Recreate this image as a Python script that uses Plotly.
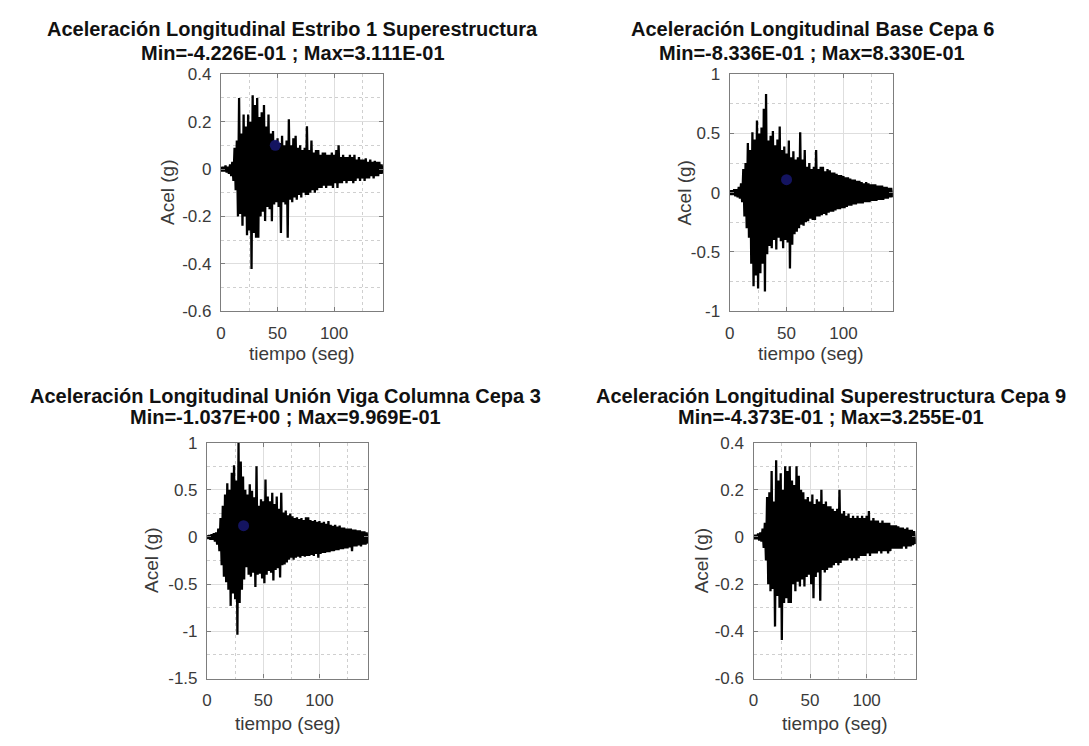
import numpy as np
import plotly.graph_objects as go

# ---------------- data ----------------
DT = 1.0  # s between samples

titles = [
    "Aceleración Longitudinal Estribo 1 Superestructura",
    "Aceleración Longitudinal Base Cepa 6",
    "Aceleración Longitudinal Unión Viga Columna Cepa 3",
    "Aceleración Longitudinal Superestructura Cepa 9",
]
subtitles = [
    "Min=-4.226E-01 ; Max=3.111E-01",
    "Min=-8.336E-01 ; Max=8.330E-01",
    "Min=-1.037E+00 ; Max=9.969E-01",
    "Min=-4.373E-01 ; Max=3.255E-01",
]

# positive peaks (t = 0, 2, 4, ...) and negative peaks (t = 1, 3, 5, ...)
pos1 = [0.01, 0.01, 0.015, 0.01, 0.02, 0.03, 0.09, 0.12, 0.30, 0.15, 0.23, 0.18,
        0.23, 0.20, 0.311, 0.27, 0.30, 0.22, 0.24, 0.27, 0.18, 0.23, 0.15, 0.16,
        0.12, 0.13, 0.11, 0.14, 0.10, 0.12, 0.21, 0.10, 0.13, 0.14, 0.09, 0.10,
        0.08, 0.09, 0.18, 0.08, 0.12, 0.07, 0.08, 0.08, 0.06, 0.07, 0.07, 0.06,
        0.06, 0.07, 0.06, 0.08, 0.10, 0.05, 0.06, 0.05, 0.05, 0.06, 0.05, 0.06,
        0.04, 0.05, 0.04, 0.04, 0.045, 0.03, 0.04, 0.03, 0.035, 0.03, 0.03, 0.02]
neg1 = [-0.01, -0.01, -0.015, -0.02, -0.03, -0.05, -0.09, -0.20, -0.19, -0.24, -0.20, -0.28,
        -0.26, -0.4226, -0.27, -0.29, -0.29, -0.20, -0.18, -0.22, -0.16, -0.17, -0.22, -0.15,
        -0.14, -0.16, -0.27, -0.14, -0.15, -0.29, -0.13, -0.14, -0.12, -0.13, -0.11, -0.12,
        -0.10, -0.11, -0.11, -0.10, -0.09, -0.10, -0.09, -0.08, -0.08, -0.07, -0.08, -0.07,
        -0.07, -0.08, -0.06, -0.08, -0.06, -0.06, -0.05, -0.06, -0.05, -0.05, -0.06, -0.05,
        -0.04, -0.05, -0.04, -0.05, -0.04, -0.04, -0.03, -0.04, -0.03, -0.03, -0.02, -0.02]

pos2 = [0.02, 0.02, 0.03, 0.03, 0.05, 0.08, 0.20, 0.25, 0.42, 0.36, 0.51, 0.45,
        0.61, 0.50, 0.55, 0.71, 0.833, 0.44, 0.48, 0.52, 0.40, 0.45, 0.56, 0.36,
        0.39, 0.33, 0.44, 0.30, 0.35, 0.28, 0.30, 0.51, 0.28, 0.36, 0.22, 0.25,
        0.20, 0.22, 0.36, 0.20, 0.22, 0.22, 0.18, 0.20, 0.19, 0.17, 0.17, 0.16,
        0.15, 0.15, 0.14, 0.13, 0.13, 0.12, 0.11, 0.11, 0.10, 0.10, 0.09, 0.08,
        0.09, 0.08, 0.07, 0.07, 0.07, 0.06, 0.06, 0.06, 0.05, 0.05, 0.04, 0.04]
neg2 = [-0.02, -0.02, -0.03, -0.04, -0.05, -0.08, -0.20, -0.30, -0.38, -0.60, -0.79, -0.70,
        -0.81, -0.68, -0.60, -0.8336, -0.52, -0.45, -0.47, -0.40, -0.48, -0.38, -0.41, -0.47,
        -0.40, -0.42, -0.64, -0.44, -0.35, -0.33, -0.30, -0.27, -0.28, -0.25, -0.24, -0.22,
        -0.23, -0.23, -0.20, -0.20, -0.19, -0.18, -0.19, -0.17, -0.16, -0.16, -0.15, -0.14,
        -0.14, -0.13, -0.13, -0.12, -0.11, -0.11, -0.10, -0.10, -0.09, -0.09, -0.09, -0.08,
        -0.08, -0.08, -0.07, -0.07, -0.07, -0.06, -0.06, -0.06, -0.05, -0.05, -0.04, -0.04]

pos3 = [0.02, 0.02, 0.03, 0.04, 0.05, 0.09, 0.20, 0.33, 0.45, 0.57, 0.50, 0.68,
        0.76, 0.60, 0.997, 0.80, 0.64, 0.50, 0.45, 0.56, 0.49, 0.42, 0.75, 0.33,
        0.40, 0.38, 0.61, 0.43, 0.38, 0.47, 0.35, 0.43, 0.30, 0.47, 0.26, 0.28,
        0.23, 0.25, 0.22, 0.20, 0.21, 0.19, 0.20, 0.18, 0.21, 0.21, 0.18, 0.17,
        0.18, 0.16, 0.17, 0.15, 0.16, 0.14, 0.17, 0.13, 0.12, 0.13, 0.11, 0.12,
        0.10, 0.10, 0.09, 0.09, 0.09, 0.08, 0.08, 0.07, 0.07, 0.06, 0.06, 0.05]
neg3 = [-0.02, -0.03, -0.03, -0.05, -0.08, -0.15, -0.30, -0.42, -0.48, -0.56, -0.73, -0.60,
        -0.66, -1.037, -0.70, -0.56, -0.45, -0.32, -0.40, -0.42, -0.38, -0.53, -0.40, -0.39,
        -0.44, -0.49, -0.40, -0.36, -0.38, -0.46, -0.35, -0.33, -0.43, -0.30, -0.29, -0.27,
        -0.24, -0.22, -0.24, -0.22, -0.21, -0.22, -0.20, -0.21, -0.20, -0.20, -0.19, -0.20,
        -0.18, -0.22, -0.18, -0.17, -0.17, -0.16, -0.16, -0.15, -0.15, -0.14, -0.14, -0.13,
        -0.13, -0.12, -0.12, -0.11, -0.15, -0.10, -0.10, -0.09, -0.10, -0.08, -0.08, -0.07]

pos4 = [0.01, 0.01, 0.015, 0.02, 0.036, 0.06, 0.17, 0.19, 0.28, 0.15, 0.3255, 0.24,
        0.27, 0.20, 0.30, 0.28, 0.30, 0.24, 0.22, 0.30, 0.26, 0.20, 0.19, 0.16,
        0.17, 0.15, 0.18, 0.14, 0.16, 0.15, 0.20, 0.14, 0.15, 0.13, 0.13, 0.12,
        0.11, 0.12, 0.20, 0.10, 0.11, 0.09, 0.10, 0.08, 0.09, 0.08, 0.09, 0.08,
        0.09, 0.08, 0.09, 0.11, 0.07, 0.08, 0.07, 0.07, 0.06, 0.07, 0.06, 0.06,
        0.06, 0.05, 0.05, 0.05, 0.045, 0.04, 0.04, 0.035, 0.04, 0.03, 0.03, 0.025]
neg4 = [-0.01, -0.01, -0.015, -0.02, -0.046, -0.10, -0.20, -0.23, -0.22, -0.38, -0.25, -0.30,
        -0.437, -0.28, -0.26, -0.28, -0.28, -0.20, -0.23, -0.19, -0.21, -0.18, -0.21, -0.17,
        -0.16, -0.20, -0.26, -0.17, -0.15, -0.27, -0.14, -0.15, -0.14, -0.13, -0.13, -0.12,
        -0.11, -0.12, -0.11, -0.10, -0.10, -0.10, -0.09, -0.10, -0.09, -0.10, -0.09, -0.08,
        -0.08, -0.08, -0.07, -0.08, -0.07, -0.07, -0.07, -0.06, -0.07, -0.06, -0.06, -0.07,
        -0.06, -0.05, -0.05, -0.05, -0.05, -0.05, -0.04, -0.05, -0.04, -0.04, -0.035, -0.03]

# blue marker point shown on three of the panels (t, accel)
marker_t = [48, 50, 32.5, None]
marker_a = [0.10, 0.11, 0.12, None]

x_ticks = [0, 50, 100]
x_ticklabels = ["0", "50", "100"]
y_ticks_list = [
    [-0.6, -0.4, -0.2, 0, 0.2, 0.4],
    [-1, -0.5, 0, 0.5, 1],
    [-1.5, -1, -0.5, 0, 0.5, 1],
    [-0.6, -0.4, -0.2, 0, 0.2, 0.4],
]
y_ticklabels_list = [
    ["-0.6", "-0.4", "-0.2", "0", "0.2", "0.4"],
    ["-1", "-0.5", "0", "0.5", "1"],
    ["-1.5", "-1", "-0.5", "0", "0.5", "1"],
    ["-0.6", "-0.4", "-0.2", "0", "0.2", "0.4"],
]
y_ranges = [[-0.6, 0.4], [-1, 1], [-1.5, 1], [-0.6, 0.4]]
y_minor = [0.1, 0.25, 0.25, 0.1]
x_range = [0, 143.5]
x_label = "tiempo (seg)"
y_label = "Acel (g)"

pos_list = [pos1, pos2, pos3, pos4]
neg_list = [neg1, neg2, neg3, neg4]

# ---------------- layout geometry (pixels) ----------------
W, H = 1089, 746
boxes = [  # left, right, top, bottom
    (217, 380, 67, 310),
    (728, 892, 67, 310),
    (203, 365, 445, 687),
    (752, 915, 445, 687),
]
title_cx = [289, 811, 282, 830]
title_y1 = [21, 21, 397, 397]
title_y2 = [45, 45, 419, 419]
xlab_y = [353, 353, 733, 733]
ylab_x = [163, 683, 147, 700]

FONT = "Liberation Sans, Arial, Helvetica, sans-serif"
TXT = "#2b2b2b"

fig = go.Figure()
layout = dict(
    width=W, height=H,
    margin=dict(l=0, r=0, t=0, b=0),
    paper_bgcolor="white", plot_bgcolor="white",
    showlegend=False,
    font=dict(family=FONT, color=TXT),
)
annotations = []

for i in range(4):
    sig = [v for pair in zip(pos_list[i], neg_list[i]) for v in pair]
    t = np.arange(len(sig)) * DT
    xa = "x" if i == 0 else f"x{i+1}"
    ya = "y" if i == 0 else f"y{i+1}"
    fig.add_trace(go.Scatter(x=t, y=sig, mode="lines",
                             line=dict(color="black", width=2.3),
                             xaxis=xa, yaxis=ya, hoverinfo="skip"))
    if marker_t[i] is not None:
        fig.add_trace(go.Scatter(x=[marker_t[i]], y=[marker_a[i]], mode="markers",
                                 marker=dict(color="rgba(25,25,120,0.8)", size=11,
                                             line=dict(width=0)),
                                 xaxis=xa, yaxis=ya, hoverinfo="skip"))
    l, r, tp, b = boxes[i]
    common = dict(
        showline=True, linecolor="#7d7d7d", linewidth=1.3, mirror="ticks",
        ticks="inside", ticklen=4, tickcolor="#7d7d7d",
        showgrid=True, gridcolor="#dedede", gridwidth=1,
        zeroline=False,
        tickfont=dict(family=FONT, size=17, color="#3a3a3a"),
    )
    layout["xaxis" if i == 0 else f"xaxis{i+1}"] = dict(
        common, domain=[l / W, r / W], range=x_range,
        anchor=ya, tickmode="array", tickvals=x_ticks, ticktext=x_ticklabels,
        ticklabelstandoff=6,
        minor=dict(dtick=25, tick0=0, showgrid=True, gridcolor="#cfcfcf",
                   griddash="dot", gridwidth=1, ticks=""),
    )
    layout["yaxis" if i == 0 else f"yaxis{i+1}"] = dict(
        common, domain=[1 - b / H, 1 - tp / H], range=y_ranges[i],
        anchor=xa, tickmode="array", tickvals=y_ticks_list[i],
        ticktext=y_ticklabels_list[i], ticklabelstandoff=5,
        minor=dict(dtick=y_minor[i], tick0=0, showgrid=True, gridcolor="#cfcfcf",
                   griddash="dot", gridwidth=1, ticks=""),
    )
    # titles
    annotations.append(dict(text="<b>" + titles[i] + "</b>", x=title_cx[i] / W,
                            y=1 - title_y1[i] / H, xref="paper", yref="paper",
                            xanchor="center", yanchor="middle", showarrow=False,
                            font=dict(family=FONT, size=20, color="#111")))
    annotations.append(dict(text="<b>" + subtitles[i] + "</b>", x=title_cx[i] / W,
                            y=1 - title_y2[i] / H, xref="paper", yref="paper",
                            xanchor="center", yanchor="middle", showarrow=False,
                            font=dict(family=FONT, size=20, color="#111")))
    # axis labels
    annotations.append(dict(text=x_label, x=(l + r) / 2 / W, y=1 - xlab_y[i] / H,
                            xref="paper", yref="paper", xanchor="center",
                            yanchor="middle", showarrow=False,
                            font=dict(family=FONT, size=19, color="#3a3a3a")))
    annotations.append(dict(text=y_label, x=ylab_x[i] / W, y=1 - (tp + b) / 2 / H,
                            xref="paper", yref="paper", xanchor="center",
                            yanchor="middle", textangle=-90, showarrow=False,
                            font=dict(family=FONT, size=19, color="#3a3a3a")))

layout["annotations"] = annotations
fig.update_layout(**layout)
fig.write_html("out.html",
               config={"displayModeBar": False},
               post_script="document.body.style.margin='0px';"
                           "document.body.style.overflow='hidden';")
